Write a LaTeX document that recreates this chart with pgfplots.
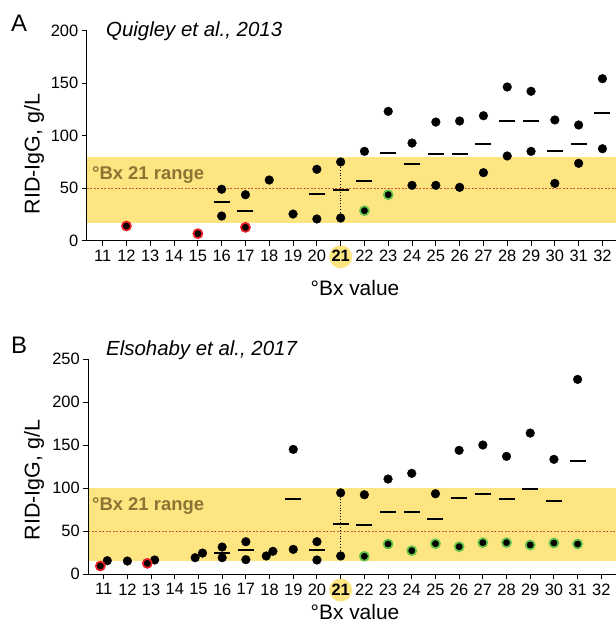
\documentclass[border=0pt]{standalone}
\usepackage{fontspec}
\setmainfont{Liberation Sans}
\usepackage{pgfplots}
\pgfplotsset{compat=1.18}
\definecolor{band}{RGB}{253,229,130}
\definecolor{bandtext}{RGB}{139,117,52}
\definecolor{ringred}{RGB}{235,30,38}
\definecolor{ringgreen}{RGB}{100,195,75}
\definecolor{refline}{RGB}{205,85,55}

\pgfplotsset{
  panel/.style={
    scale only axis,
    axis on top,
    clip=false,
    axis x line*=bottom, axis y line*=left,
    axis line style={line width=1bp, black},
    tick align=outside, major tick length=5bp,
    tick style={line width=1bp, black},
    xtick={11,...,32},
    xticklabels={11,12,13,14,15,16,17,18,19,20,\textbf{21},22,23,24,25,26,27,28,29,30,31,32},
    ymin=0,
    tick label style={font=\fontsize{16.5}{18}\selectfont},
    xticklabel style={yshift=-1bp},
    /pgf/number format/assume math mode=true,
  },
  dots/.style={only marks, mark=*, mark size=4.4bp, mark options={fill=black, draw=black, line width=0.3bp}},
  reddots/.style={only marks, mark=*, mark size=4.5bp, mark options={fill=black, draw=ringred, line width=1.7bp}},
  greendots/.style={only marks, mark=*, mark size=4.5bp, mark options={fill=black, draw=ringgreen, line width=1.7bp}},
  means/.style={only marks, mark=-, mark size=8bp, mark options={line width=1.8bp, draw=black}},
}

\begin{document}
\begin{tikzpicture}
\useasboundingbox (0,0) rectangle (616bp,-625bp);

% ---------------- Panel A ----------------
\begin{axis}[panel,
  at={(86.7bp,-240.7bp)}, anchor=south west,
  width=529.3bp, height=210bp,
  xmin=10.33, xmax=32.57, ymax=200,
  ytick={0,50,100,150,200},
]
\addplot[fill=band, draw=none] coordinates {(10.33,17) (32.57,17) (32.57,80) (10.33,80)} -- cycle;
\addplot[refline, line width=0.6bp, dash pattern=on 2bp off 1.5bp] coordinates {(10.33,50) (32.57,50)};
\addplot[black, line width=0.8bp, dotted] coordinates {(21,21.6) (21,75)};
\fill[band] ([yshift=-16bp]axis cs:21,0) circle (11.5bp);
\addplot[means] coordinates {
(16,36.5) (17,28.4) (20,44.5) (21,48.3) (22,56.9) (23,83.5) (24,72.7) (25,82.9)
(26,82.3) (27,92.1) (28,113.7) (29,113.7) (30,85.4) (31,92.1) (32,121.3)};
\addplot[dots] coordinates {
(16,49) (16,23.5) (17,43.8) (18,57.8) (19,25.4) (20,68) (20,20.7) (21,75) (21,21.6)
(22,85.1) (23,123.2) (24,93) (24,52.7) (25,113) (25,52.7) (26,114) (26,50.8)
(27,119) (27,64.8) (28,146.4) (28,80.7) (29,142.3) (29,85.1) (30,115) (30,54.6)
(31,110.2) (31,73.7) (32,154.3) (32,87.6)};
\addplot[reddots] coordinates {(12,14) (15,6.7) (17,12.7)};
\addplot[greendots] coordinates {(22,28.6) (23,43.8)};
\end{axis}

% ---------------- Panel B ----------------
\begin{axis}[panel,
  at={(88.3bp,-574bp)}, anchor=south west,
  width=527.7bp, height=214.7bp,
  xmin=10.35, xmax=32.62, ymax=250,
  ytick={0,50,100,150,200,250},
]
\addplot[fill=band, draw=none] coordinates {(10.35,15.5) (32.62,15.5) (32.62,100) (10.35,100)} -- cycle;
\addplot[refline, line width=0.6bp, dash pattern=on 2bp off 1.5bp] coordinates {(10.35,50) (32.62,50)};
\addplot[black, line width=0.8bp, dotted] coordinates {(21,21) (21,94.5)};
\fill[band] ([yshift=-16bp]axis cs:21,0) circle (11.5bp);
\addplot[means] coordinates {
(16,24.8) (17,27.6) (19,87.3) (20,27.5) (21,57.8) (22,56.6) (23,72.2) (24,72.2)
(25,64.4) (26,88.5) (27,93.5) (28,87) (29,99.3) (30,84.6) (31,131.2)};
\addplot[dots] coordinates {
(11.15,15.5) (12,15.1) (13.15,16.3) (14.86,19) (15.17,24.4) (16,31.4) (16,19)
(17,37.6) (17,16.7) (17.86,21) (18.14,26.4) (19,145.1) (19,28.7) (20,37.6) (20,16.3)
(21,94.5) (21,21) (22,92.3) (23,110.6) (24,117.2) (25,93.5) (26,144) (27,150.2)
(28,137) (29,164.1) (30,133.5) (31,226.6)};
\addplot[reddots] coordinates {(10.86,9.3) (12.84,12.4)};
\addplot[greendots] coordinates {(22,20.6) (23,34.9) (24,27.2) (25,35.3) (26,31.8)
(27,36.5) (28,36.5) (29,33.8) (30,36.1) (31,34.9)};
\end{axis}

% ---------------- texts ----------------
\node[font=\fontsize{24}{26}\selectfont] at (19bp,-23.5bp) {A};
\node[font=\fontsize{24}{26}\selectfont] at (19bp,-345.5bp) {B};
\node[anchor=base west, font=\itshape\fontsize{20.5}{22}\selectfont, inner sep=0pt] at (106bp,-36bp) {Quigley et al., 2013};
\node[anchor=base west, font=\itshape\fontsize{20.5}{22}\selectfont, inner sep=0pt] at (106bp,-355bp) {Elsohaby et al., 2017};
\node[anchor=base west, font=\bfseries\fontsize{18.5}{20}\selectfont, text=bandtext, inner sep=0pt] at (92bp,-179bp) {°Bx 21 range};
\node[anchor=base west, font=\bfseries\fontsize{18.5}{20}\selectfont, text=bandtext, inner sep=0pt] at (92bp,-510.5bp) {°Bx 21 range};
\node[rotate=90, font=\fontsize{21.5}{23}\selectfont] at (34bp,-154bp) {RID-IgG, g/L};
\node[rotate=90, font=\fontsize{21.5}{23}\selectfont] at (34bp,-480bp) {RID-IgG, g/L};
\node[font=\fontsize{21}{23}\selectfont] at (355bp,-288bp) {°Bx value};
\node[font=\fontsize{21}{23}\selectfont] at (355bp,-612bp) {°Bx value};
\end{tikzpicture}
\end{document}
